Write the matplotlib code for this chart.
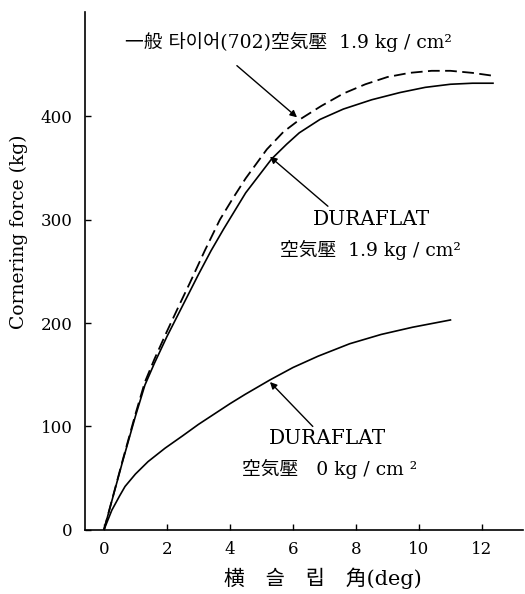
import matplotlib
matplotlib.use('Agg')
import matplotlib.pyplot as plt

# general tyre (702), 1.9 kg/cm2 -- dashed
x_gen = [0, 0.6, 1.0, 1.3, 1.6, 2.0, 2.4, 2.73, 3.2, 3.68, 4.1, 4.5, 5.17, 5.7,
         6.22, 6.9, 7.6, 8.3, 9.0, 9.7, 10.4, 11.0, 11.7, 12.4]
y_gen = [0, 68, 112, 143, 165, 192, 218, 239, 270, 300, 321, 340, 368, 385,
         397, 410, 422, 431, 438, 442, 444, 444, 442, 439]

# DURAFLAT 1.9 kg/cm2
x_df19 = [0, 0.6, 1.0, 1.3, 1.6, 2.0, 2.5, 3.0, 3.4, 3.8, 4.5, 5.33, 5.8, 6.2,
          6.86, 7.6, 8.5, 9.4, 10.2, 11.0, 11.7, 12.35]
y_df19 = [0, 67, 110, 140, 161, 187, 217, 247, 270, 291, 326, 359, 373, 384,
          397, 407, 416, 423, 428, 431, 432, 432]

# DURAFLAT 0 kg/cm2
x_df0 = [0, 0.25, 0.5, 0.67, 1.0, 1.4, 1.94, 2.5, 3.0, 3.5, 4.0, 4.48, 5.27,
         6.0, 6.8, 7.8, 8.8, 9.8, 11.0]
y_df0 = [0, 19, 33, 42, 54, 66, 79, 91, 102, 112, 122, 131, 145,
         157, 168, 180, 189, 196, 203]

xticks = [0, 2, 4, 6, 8, 10, 12]
yticks = [0, 100, 200, 300, 400]

fam = ['DejaVu Serif', 'Noto Sans CJK KR']
plt.rcParams['font.family'] = fam

fig = plt.figure(figsize=(5.25, 5.94), dpi=100)
ax = fig.add_axes([0.162, 0.108, 0.834, 0.872])

ax.plot(x_gen, y_gen, color='black', lw=1.3, dashes=(6.5, 3))
ax.plot(x_df19, y_df19, color='black', lw=1.2)
ax.plot(x_df0, y_df0, color='black', lw=1.2)

ax.set_xlim(-0.6, 13.3)
ax.set_ylim(0, 501)
ax.set_xticks(xticks)
ax.set_yticks(yticks)
ax.tick_params(direction='in', length=4, width=1, labelsize=12)
ax.tick_params(axis='y', pad=9)
ax.tick_params(axis='x', pad=8)
for s in ['top', 'right']:
    ax.spines[s].set_visible(False)
for s in ['left', 'bottom']:
    ax.spines[s].set_linewidth(1.2)

ax.set_ylabel('Cornering force (kg)', fontsize=13.5)
ax.yaxis.set_label_coords(-0.13, 0.575)
ax.set_xlabel('横　슬　립　角(deg)', fontsize=15)
ax.xaxis.set_label_coords(0.543, -0.072)

arrow = dict(arrowstyle='-|>', lw=1, color='black', mutation_scale=10,
             shrinkA=0, shrinkB=0)

ax.annotate('', xy=(6.13, 399), xytext=(4.22, 449), arrowprops=arrow)
ax.text(5.84, 472, '一般 타이어(702)空気壓  1.9 kg / cm²', fontsize=13.5,
        ha='center', va='center')

ax.annotate('', xy=(5.27, 361), xytext=(7.11, 313), arrowprops=arrow)
ax.text(8.5, 300, 'DURAFLAT', fontsize=14.5, ha='center', va='center')
ax.text(8.45, 271, '空気壓  1.9 kg / cm²', fontsize=13.5, ha='center', va='center')

ax.annotate('', xy=(5.27, 143), xytext=(6.63, 100), arrowprops=arrow)
ax.text(7.1, 88, 'DURAFLAT', fontsize=14.5, ha='center', va='center')
ax.text(7.17, 59, '空気壓   0 kg / cm ²', fontsize=13.5, ha='center', va='center')

fig.savefig('out.png', dpi=100)
